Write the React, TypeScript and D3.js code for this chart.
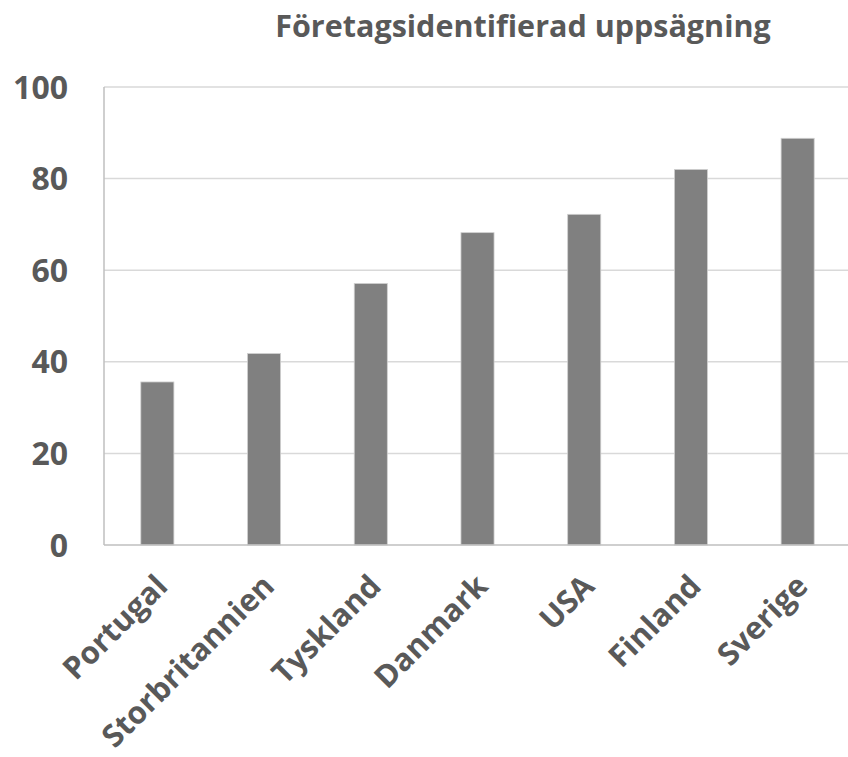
import * as d3 from "d3";
import {useEffect, useRef} from "react";

const countries = ["Portugal", "Storbritannien", "Tyskland", "Danmark", "USA", "Finland", "Sverige"];
const values = [35.6, 41.8, 57.1, 68.2, 72.2, 82.0, 88.8];
const yTicks = [0, 20, 40, 60, 80, 100];
const title = "Företagsidentifierad uppsägning";

const W = 848;
const H = 757;
const margin = {top: 87, right: -3, bottom: 212, left: 104};
const font = "'Open Sans', sans-serif";
const textColor = "#595959";

const App = () => {
    const ref = useRef(null);

    useEffect(() => {
        const svg = d3.select(ref.current);
        svg.selectAll("*").remove();

        const x = d3.scaleBand()
            .domain(countries)
            .range([margin.left, W - margin.right])
            .paddingInner(0.69)
            .paddingOuter(0.345);

        const y = d3.scaleLinear()
            .domain([0, 100])
            .range([H - margin.bottom, margin.top]);

        // gridlines
        svg.append("g")
            .selectAll("line")
            .data(yTicks.filter(t => t > 0))
            .enter()
            .append("line")
            .attr("x1", margin.left)
            .attr("x2", W)
            .attr("y1", d => y(d))
            .attr("y2", d => y(d))
            .attr("stroke", "#d9d9d9")
            .attr("stroke-width", 1.5);

        // bars
        svg.append("g")
            .selectAll("rect")
            .data(values)
            .enter()
            .append("rect")
            .attr("x", (d, i) => x(countries[i]))
            .attr("y", d => y(d))
            .attr("width", x.bandwidth())
            .attr("height", d => y(0) - y(d))
            .attr("fill", "#808080")
            .attr("stroke", "#d0d0d0")
            .attr("stroke-width", 0.8);

        // axis lines
        svg.append("line")
            .attr("x1", margin.left)
            .attr("x2", margin.left)
            .attr("y1", y(100))
            .attr("y2", y(0))
            .attr("stroke", "#bfbfbf")
            .attr("stroke-width", 1.5);
        svg.append("line")
            .attr("x1", margin.left)
            .attr("x2", W)
            .attr("y1", y(0))
            .attr("y2", y(0))
            .attr("stroke", "#bfbfbf")
            .attr("stroke-width", 1.5);

        // y tick labels
        svg.append("g")
            .selectAll("text")
            .data(yTicks)
            .enter()
            .append("text")
            .attr("x", 68)
            .attr("y", d => y(d))
            .attr("dy", "0.36em")
            .attr("text-anchor", "end")
            .attr("font-family", font)
            .attr("font-weight", "bold")
            .attr("font-size", 32)
            .attr("fill", textColor)
            .text(d => d);

        // category labels
        svg.append("g")
            .selectAll("text")
            .data(countries)
            .enter()
            .append("text")
            .attr("transform", d => "translate(" + (x(d) + x.bandwidth() / 2 + 12) + "," + 588 + ") rotate(-45)")
            .attr("text-anchor", "end")
            .attr("font-family", font)
            .attr("font-weight", "bold")
            .attr("font-size", 31)
            .attr("fill", textColor)
            .text(d => d);

        // title
        svg.append("text")
            .attr("x", 523)
            .attr("y", 37)
            .attr("text-anchor", "middle")
            .attr("font-family", font)
            .attr("font-weight", "bold")
            .attr("font-size", 30.5)
            .attr("fill", textColor)
            .text(title);
    }, []);

    return (
        <svg
            ref={ref}
            width={W}
            height={H}
            style={{position: "absolute", left: 0, top: 0, background: "#fff"}}>
        </svg>
    );
}

export default App;
